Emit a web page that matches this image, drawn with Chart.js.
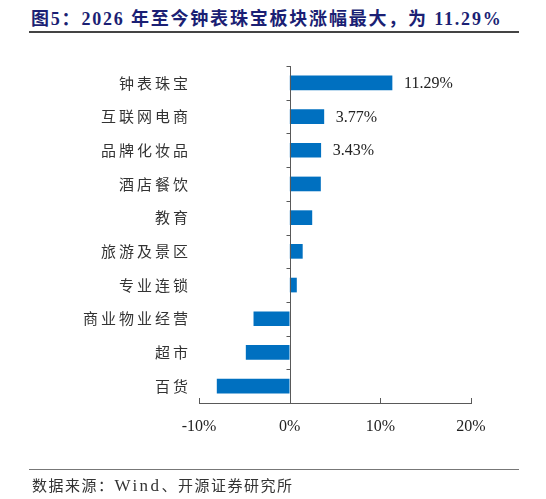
<!DOCTYPE html>
<html>
<head>
<meta charset="utf-8">
<script src="https://cdn.jsdelivr.net/npm/chart.js@4.4.1/dist/chart.umd.min.js"></script>
<style>
	body { margin: 0; width: 546px; height: 499px; background: #fff; position: relative; overflow: hidden; }
	#title { position: absolute; left: 31px; top: 4px; font: bold 18px "Liberation Serif", "Noto Sans CJK SC"; color: #1b1f74; white-space: nowrap; letter-spacing: 1.8px; }
	.rule { position: absolute; left: 29px; width: 490px; }
	#rule-top { top: 31px; height: 2px; background: #444; }
	#rule-bottom { top: 469px; height: 1px; background: #777; }
	#source { position: absolute; left: 32px; top: 474px; font: 15px "Liberation Serif", "Noto Sans CJK SC"; color: #333; letter-spacing: 1.5px; white-space: nowrap; }
	#source .latin { font-size: 17px; letter-spacing: 2.5px; }
	#wrap { position: absolute; left: 0; top: 0; width: 546px; height: 499px; }
</style>
</head>
<body>
<div id="title">图5：2026 年至今钟表珠宝板块涨幅最大，为 11.29%</div>
<div class="rule" id="rule-top"></div>
<div id="wrap"><canvas id="chart"></canvas></div>
<div class="rule" id="rule-bottom"></div>
<div id="source">数据来源：<span class="latin">Wind</span>、开源证券研究所</div>
<script>
// ================ data ================
const categories = ["钟表珠宝", "互联网电商", "品牌化妆品", "酒店餐饮", "教育", "旅游及景区", "专业连锁", "商业物业经营", "超市", "百货"];
const changes = [11.29, 3.77, 3.43, 3.40, 2.45, 1.40, 0.75, -3.95, -4.80, -8.00];
const labeledBars = [0, 1, 2]; // only these bars get a value label
const xMin = -10;
const xMax = 20;
const xStep = 10;

const BAR_COLOR = "#0070C0";
const AXIS_COLOR = "#595959";
const SERIF = "'Liberation Serif', 'Times New Roman', serif";

// zero line, inner tick marks and value labels
const zeroAxis = {
	id: "zeroAxis",
	afterDatasetsDraw(chart) {
		const { ctx, chartArea, scales } = chart;
		const x = scales.x;
		const y = scales.y;
		const x0 = Math.round(x.getPixelForValue(0)) + 0.5;
		ctx.save();
		ctx.strokeStyle = AXIS_COLOR;
		ctx.lineWidth = 1;
		ctx.beginPath();
		ctx.moveTo(x0, chartArea.top);
		ctx.lineTo(x0, chartArea.bottom);
		// category boundary ticks on the zero line
		for (let i = 0; i < categories.length; i++) {
			const py = Math.round(y.getPixelForValue(i - 0.5)) + 0.5;
			ctx.moveTo(x0 - 4, py);
			ctx.lineTo(x0, py);
		}
		// x ticks pointing inward
		for (const t of x.ticks) {
			const px = Math.round(x.getPixelForValue(t.value)) + 0.5;
			ctx.moveTo(px, chartArea.bottom);
			ctx.lineTo(px, chartArea.bottom - 5);
		}
		ctx.stroke();

		// value labels
		const meta = chart.getDatasetMeta(0);
		ctx.fillStyle = "#222";
		ctx.font = "16px " + SERIF;
		ctx.textBaseline = "middle";
		ctx.textAlign = "left";
		for (const i of labeledBars) {
			const bar = meta.data[i];
			ctx.fillText(changes[i].toFixed(2) + "%", bar.x + 12, bar.y + 1);
		}
		ctx.restore();
	},
};

new Chart(document.getElementById("chart"), {
	type: "bar",
	data: {
		labels: categories,
		datasets: [
			{
				data: changes,
				backgroundColor: BAR_COLOR,
				borderWidth: 0,
				barThickness: 14,
			},
		],
	},
	options: {
		indexAxis: "y",
		responsive: true,
		maintainAspectRatio: false,
		animation: false,
		layout: {
			padding: { top: 66, right: 75, left: 0, bottom: 0 },
		},
		plugins: {
			legend: { display: false },
			tooltip: { enabled: false },
		},
		scales: {
			x: {
				min: xMin,
				max: xMax,
				ticks: {
					stepSize: xStep,
					callback: (v) => v + "%",
					font: { family: SERIF, size: 16 },
					color: "#222",
					padding: 14,
				},
				grid: { drawOnChartArea: false, drawTicks: false },
				border: { color: AXIS_COLOR, width: 1 },
				afterFit: (s) => { s.height = 96; },
			},
			y: {
				ticks: {
					callback: (v, i) => categories[i].split("").join("\u2009"),
					font: { family: "'Noto Sans CJK SC'", size: 15 },
					color: "#333",
					padding: 11,
				},
				grid: { display: false, drawTicks: false },
				border: { display: false },
				afterFit: (s) => { s.width = 199; },
			},
		},
	},
	plugins: [zeroAxis],
});
</script>
</body>
</html>
